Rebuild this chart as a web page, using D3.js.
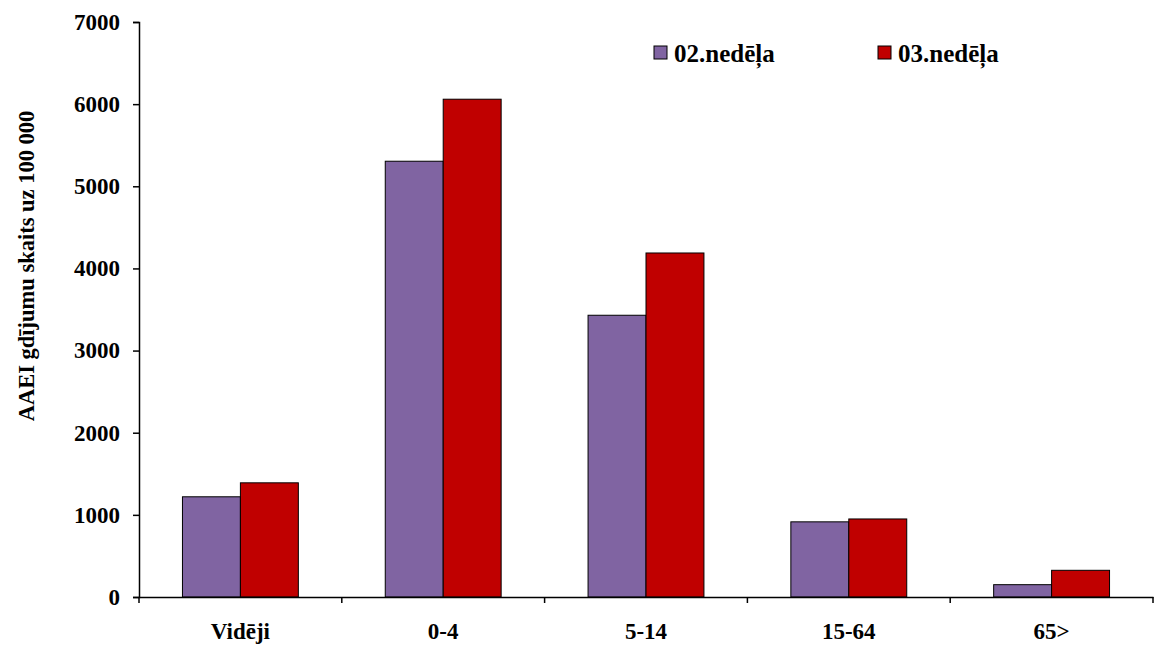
<!DOCTYPE html>
<html><head><meta charset="utf-8">
<script src="https://cdn.jsdelivr.net/npm/d3@7"></script>
<style>body{margin:0;background:#fff}svg{display:block}</style>
</head><body><svg id="c" width="1155" height="645"></svg>
<script>
const categories = ["Vidēji", "0-4", "5-14", "15-64", "65>"];
const seriesNames = ["02.nedēļa", "03.nedēļa"];
const week02 = [1220, 5305, 3430, 915, 150];
const week03 = [1390, 6060, 4188, 950, 325];
const yTicks = [0, 1000, 2000, 3000, 4000, 5000, 6000, 7000];
const colors = ["#8064A2", "#C00000"];
const yTitle = "AAEI gdījumu skaits uz 100 000";

(function () {
const FF = '"Liberation Serif", "Times New Roman", "DejaVu Serif", serif';
const svg = d3.select("#c");
const mL = 139, mR = 1153, mT = 22, mB = 597;
const x = d3.scaleBand().domain(categories).range([mL, mR]).padding(0);
const x1 = d3.scaleBand().domain(seriesNames).range([0, x.bandwidth()]).paddingInner(0).paddingOuter(0.75);
const y = d3.scaleLinear().domain([0, 7000]).range([mB, mT]);

const data = categories.map((c, i) => ({cat: c, vals: [week02[i], week03[i]]}));
const g = svg.append("g");
data.forEach(d => {
  d.vals.forEach((v, j) => {
    g.append("rect")
      .attr("x", x(d.cat) + x1(seriesNames[j]))
      .attr("y", y(v))
      .attr("width", x1.bandwidth())
      .attr("height", y(0) - y(v))
      .attr("fill", colors[j])
      .attr("stroke", "#000").attr("stroke-width", 1);
  });
});

function styleText(sel, size) {
  sel.style("font-family", FF).style("font-weight", "bold").style("font-size", size + "px").attr("fill", "#000");
}

// y axis
const ya = svg.append("g").attr("transform", `translate(${mL},0)`)
  .call(d3.axisLeft(y).tickValues(yTicks).tickSize(6).tickPadding(13).tickFormat(d3.format("d")));
ya.select(".domain").attr("stroke", "#000").attr("stroke-width", 1.5);
ya.selectAll("line").attr("stroke-width", 1.5);
styleText(ya.selectAll("text"), 23);

// x axis
const xa = svg.append("g").attr("transform", `translate(0,${mB})`)
  .call(d3.axisBottom(x).tickSize(0).tickPadding(0).tickFormat(() => ""));
xa.select(".domain").attr("stroke", "#000").attr("stroke-width", 1.5);
const edges = categories.map(c => x(c)).concat([mR]);
xa.selectAll(".edge").data(edges).enter().append("line")
  .attr("x1", d => d).attr("x2", d => d).attr("y1", 0).attr("y2", 6)
  .attr("stroke", "#000").attr("stroke-width", 1.5);
styleText(svg.selectAll(".xl").data(categories).enter().append("text")
  .attr("x", d => x(d) + x.bandwidth() / 2).attr("y", 639)
  .attr("text-anchor", "middle").text(d => d), 23);

// y title
styleText(svg.append("text").attr("transform", "translate(34,266) rotate(-90)")
  .attr("text-anchor", "middle").text(yTitle), 22.5);

// legend
const legX = [654, 878];
seriesNames.forEach((s, j) => {
  svg.append("rect").attr("x", legX[j]).attr("y", 46).attr("width", 13).attr("height", 13)
    .attr("fill", colors[j]).attr("stroke", "#000").attr("stroke-width", 1);
  styleText(svg.append("text").attr("x", legX[j] + 20).attr("y", 62).text(s), 25);
});
})();
</script></body></html>
